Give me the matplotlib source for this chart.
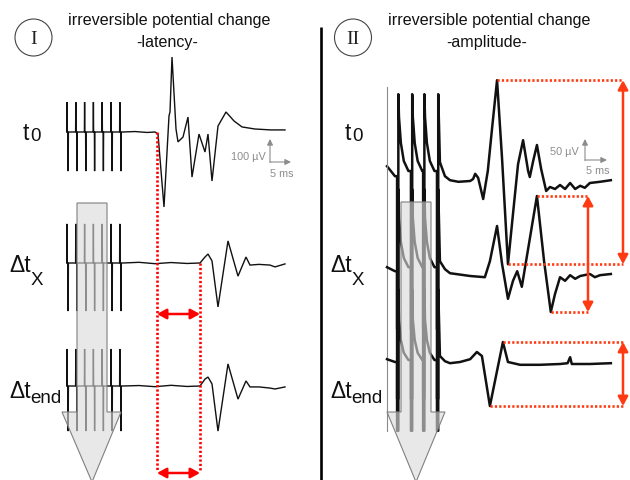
import matplotlib
matplotlib.use("Agg")
import matplotlib.pyplot as plt
from matplotlib.patches import Circle, Polygon

plt.rcParams['font.family'] = ['Liberation Sans', 'DejaVu Sans']

# ------------------------------------------------------------------ data
panel_numbers = ["I", "II"]
panel_titles = ["irreversible potential change", "irreversible potential change"]
panel_subtitles = ["-latency-", "-amplitude-"]
row_main = ["t", "\u0394t", "\u0394t"]
row_sub = ["0", "X", "end"]
scale_v_labels = ["100 \u00b5V", "50 \u00b5V"]
scale_t_label = "5 ms"

# Panel I (latency): time in ms from first stimulus, amplitude in µV
lat_stim_ms = [0.0, 2.2, 4.4, 6.6, 8.8, 11.0, 13.2]
lat_stim_up_uV = [130, 170, 161]
lat_stim_down_uV = [-170, -209, -196]
lat_t0_ms = [14.0, 17.0, 20.0, 22.0, 22.75, 24.25, 25.5, 25.75, 26.25, 27.25, 27.75,
             29.0, 30.25, 31.25, 33.0, 34.5, 35.25, 36.25, 37.75, 39.75, 41.75, 43.75,
             47.0, 51.0, 54.5]
lat_t0_uV = [0, 2, -2, 0, -9, -326, 70, 87, 326, 13, -43,
             -22, 65, -196, -9, -87, -9, -213, 26, 87, 48, 22,
             13, 9, 9]
lat_dx_ms = [14.0, 18.0, 22.0, 26.0, 30.0, 33.25, 34.5, 35.25, 36.25, 37.75, 40.25,
             42.75, 44.75, 45.75, 48.0, 50.75, 52.0, 54.5]
lat_dx_uV = [0, 3, -3, 2, -2, 0, 26, 39, 9, -191, 96,
             -57, 26, -9, -6, -9, -17, -4]
lat_de_ms = [14.0, 18.0, 22.0, 26.0, 30.0, 33.25, 34.5, 35.25, 36.25, 37.75, 40.25,
             42.75, 44.75, 45.75, 48.0, 50.75, 52.0, 54.5]
lat_de_uV = [0, 2, -3, 3, -2, 0, 30, 39, 9, -196, 96,
             -57, 22, -4, -4, -9, -13, -4]
lat_onset_ms = [22.5, 33.25]          # response onset at t0 and at Δt_X

# Panel II (amplitude): time in ms, amplitude in µV
amp_onset_ms = 0.0
amp_onset_range_uV = [235, -625]
amp_stim_ms = [2.4, 5.7, 8.6, 11.9]
amp_stim_up_uV = [217, 212, 187]
amp_stim_down_uV = [-370, -312, -167]
amp_decay_dt_ms = [0.45, 0.9, 1.6, 2.7]
amp_decay_uV = [[160, 95, 50, 25], [140, 80, 40, 17], [110, 60, 28, 10]]
amp_pre_ms = [0.0, 1.9]
amp_pre_uV = [[37, 12], [17, 7], [12, 5]]
amp_t0_ms = [12.6, 13.8, 15.0, 17.0, 19.8, 20.5, 21.0, 21.7, 22.9, 24.0, 25.0, 26.2,
             27.4, 28.8, 30.0, 31.2, 32.4, 33.6, 34.0, 34.8, 35.7, 36.7, 37.9, 38.8,
             40.0, 41.2, 42.4, 43.6, 44.8, 46.0, 47.1, 48.3, 50.7, 53.3]
amp_t0_uV = [47, 12, 2, -2, 0, 5, 18, 8, -45, 25, 130, 252,
             55, -208, -82, 42, 102, 25, 10, 50, 90, 30, -25, -15,
             -20, -10, -20, -5, -20, -12, -17, -5, -2, 2]
amp_dx_ms = [12.6, 13.8, 15.0, 19.8, 23.3, 24.5, 26.2, 27.4, 28.8, 30.0, 31.0, 32.1,
             34.0, 35.7, 37.4, 39.0, 40.0, 41.2, 42.4, 43.6, 44.8, 46.0, 48.3, 49.5,
             50.7, 53.3]
amp_dx_uV = [32, 12, 2, -5, -8, 32, 120, 25, -62, -17, 7, -32,
             88, 195, 32, -95, -50, -8, -17, -3, -12, -5, 0, -8,
             -3, 0]
amp_de_ms = [12.6, 13.8, 15.0, 17.4, 19.8, 21.4, 22.6, 24.5, 27.6, 28.8, 31.7, 36.4,
             41.2, 43.0, 43.6, 44.0, 48.3, 53.3]
amp_de_uV = [20, 7, 2, 5, 12, 30, 20, -105, 55, 5, -2, -2,
             0, 2, 17, 0, 0, 2]
amp_response_start_ms = 19.0

# ------------------------------------------------------------------ figure
W, H = 630, 481
fig = plt.figure(figsize=(W / 100, H / 100), dpi=100)
fig.patch.set_facecolor("white")

ov = fig.add_axes([0, 0, 1, 1], zorder=5)
ov.set_xlim(0, W)
ov.set_ylim(H, 0)
ov.axis("off")


def row_axes(px_left, px_width, base_px, half_px, xlim, px_per_uV):
    ax = fig.add_axes([px_left / W, (H - (base_px + half_px)) / H,
                       px_width / W, 2 * half_px / H], zorder=2)
    ax.set_xlim(*xlim)
    lim = half_px / px_per_uV
    ax.set_ylim(-lim, lim)
    ax.axis("off")
    return ax


def to_px(ax, t, v):
    d = ax.transData.transform((t, v))
    return ov.transData.inverted().transform(d)


TRACE = "#111111"

# ---------------- Panel I traces
left_bases = [133, 264, 387]
left_axes = [row_axes(50, 250, b, 150, (-4.25, 58.25), 0.23) for b in left_bases]
lat_resp = [(lat_t0_ms, lat_t0_uV), (lat_dx_ms, lat_dx_uV), (lat_de_ms, lat_de_uV)]
for i, ax in enumerate(left_axes):
    t, v = [], []
    for s in lat_stim_ms:
        t += [s - 0.05, s, s + 0.05, s + 0.25, s + 0.3, s + 0.35]
        v += [0, lat_stim_up_uV[i], 0, 0, lat_stim_down_uV[i], 0]
    t += lat_resp[i][0]
    v += lat_resp[i][1]
    ax.plot(t, v, color=TRACE, lw=1.0, clip_on=False, solid_joinstyle="miter")

# ---------------- Panel II traces
right_bases = [182, 275, 365]
right_axes = [row_axes(380, 245, b, 150, (-7 / 4.2, 238 / 4.2), 0.4) for b in right_bases]
amp_resp = [(amp_t0_ms, amp_t0_uV), (amp_dx_ms, amp_dx_uV), (amp_de_ms, amp_de_uV)]
for i, ax in enumerate(right_axes):
    t = list(amp_pre_ms)
    v = list(amp_pre_uV[i])
    for k, s in enumerate(amp_stim_ms):
        t += [s, s, s + 0.3, s + 0.3]
        v += [v[-1], amp_stim_down_uV[i], amp_stim_down_uV[i], amp_stim_up_uV[i]]
        if k < len(amp_stim_ms) - 1:
            t += [s + d for d in amp_decay_dt_ms]
            v += amp_decay_uV[i]
    t += amp_resp[i][0]
    v += amp_resp[i][1]
    ax.plot(t, v, color=TRACE, lw=1.8, clip_on=False)
right_axes[0].plot([amp_onset_ms, amp_onset_ms], amp_onset_range_uV,
                   color="#8a8a8a", lw=0.8, clip_on=False)

# ---------------- titles, circles, labels
for cx, num, title, sub, tx in [(33.5, panel_numbers[0], panel_titles[0], panel_subtitles[0], 169),
                                (353, panel_numbers[1], panel_titles[1], panel_subtitles[1], 489)]:
    ov.add_patch(Circle((cx, 38.5), 18.5, fill=False, ec="#444444", lw=0.8))
    ov.text(cx, 39.5, num, ha="center", va="center", fontsize=14,
            family=["Liberation Serif", "DejaVu Serif"], color="#222222")
    ov.text(tx, 21, title, ha="center", va="center", fontsize=11.6, color="#111111")
    ov.text(tx - 2, 42, sub, ha="center", va="center", fontsize=11.6, color="#111111")

label_pos = [
    [(23, 140, 30.5, 141), (9, 272, 31, 285), (9, 398, 30, 403)],
    [(345, 140, 352.5, 141), (330, 272, 352, 285), (330, 398, 351, 403)],
]
for pos in label_pos:
    for j, (mx, my, sx, sy) in enumerate(pos):
        ov.text(mx, my, row_main[j], ha="left", va="baseline", fontsize=16.5, color="#111111")
        ov.text(sx, sy, row_sub[j], ha="left", va="baseline", fontsize=13.5, color="#111111")

# separator
ov.plot([321, 321], [28, H], color="black", lw=1.9, solid_capstyle="butt")

# ---------------- scale bars
GRAY = "#8c8c8c"
for (vx, vy0, vy1, hx1, lab, lx, ly, tx2, ty) in [
        (270, 163, 140, 291, scale_v_labels[0], 266, 157, 294, 174),
        (585, 161, 140, 607, scale_v_labels[1], 579, 152, 610, 171)]:
    ov.annotate("", xy=(vx, vy1), xytext=(vx, vy0 + 0.5),
                arrowprops=dict(arrowstyle="-|>,head_length=0.5,head_width=0.25", color=GRAY,
                                lw=0.8, mutation_scale=7, shrinkA=0, shrinkB=0))
    ov.annotate("", xy=(hx1, vy0), xytext=(vx, vy0),
                arrowprops=dict(arrowstyle="-|>,head_length=0.5,head_width=0.25", color=GRAY,
                                lw=0.8, mutation_scale=7, shrinkA=0, shrinkB=0))
    ov.text(lx, ly, lab, ha="right", va="center", fontsize=7.8, color=GRAY)
    ov.text(tx2, ty, scale_t_label, ha="right", va="center", fontsize=7.8, color=GRAY)

# ---------------- grey progress arrows
ARROW_FC = (0.86, 0.86, 0.86, 0.62)
for verts in [
        [(77, 204), (107, 204), (107, 413), (121, 413), (92, 483), (62, 413), (77, 413)],
        [(401, 203), (431, 203), (431, 413), (445, 413), (416, 483), (387, 413), (401, 413)]]:
    ov.add_patch(Polygon(verts, closed=True, fc=ARROW_FC, ec="#808080", lw=0.8, zorder=3))

# ---------------- latency annotation (panel I)
RED = "#ff0000"
DOT = dict(lw=1.9, ls=(0, (0.85, 0.8)), dash_capstyle="butt", zorder=4)
x_on0, y_on0 = to_px(left_axes[0], lat_onset_ms[0], 0)
x_on1, y_on1 = to_px(left_axes[1], lat_onset_ms[1], 0)
ov.plot([x_on0, x_on0], [y_on0, 472], color=RED, **DOT)
ov.plot([x_on1, x_on1], [y_on1, 472], color=RED, **DOT)
for ya in [315, 474]:
    ov.annotate("", xy=(x_on1, ya), xytext=(x_on0, ya),
                arrowprops=dict(arrowstyle="<|-|>,head_length=0.55,head_width=0.3", color=RED,
                                lw=1.8, mutation_scale=10, shrinkA=0, shrinkB=0), zorder=4)

# ---------------- amplitude annotation (panel II)
ORANGE = "#ff3a12"
arrow_x = [623, 588, 623]
for i, ax in enumerate(right_axes):
    ts, vs = amp_resp[i]
    pts = [(t, v) for t, v in zip(ts, vs) if t > amp_response_start_ms]
    tp, vp = max(pts, key=lambda p: p[1])
    tt, vt = min(pts, key=lambda p: p[1])
    xp, yp = to_px(ax, tp, vp)
    xt, yt = to_px(ax, tt, vt)
    ax_x = arrow_x[i]
    ov.plot([xp, ax_x], [yp, yp], color=ORANGE, **DOT)
    ov.plot([xt, ax_x], [yt, yt], color=ORANGE, **DOT)
    ov.annotate("", xy=(ax_x, yt), xytext=(ax_x, yp),
                arrowprops=dict(arrowstyle="<|-|>,head_length=0.55,head_width=0.3", color=ORANGE,
                                lw=1.8, mutation_scale=10, shrinkA=0, shrinkB=0), zorder=4)

fig.savefig("out.png", dpi=100, facecolor="white")
